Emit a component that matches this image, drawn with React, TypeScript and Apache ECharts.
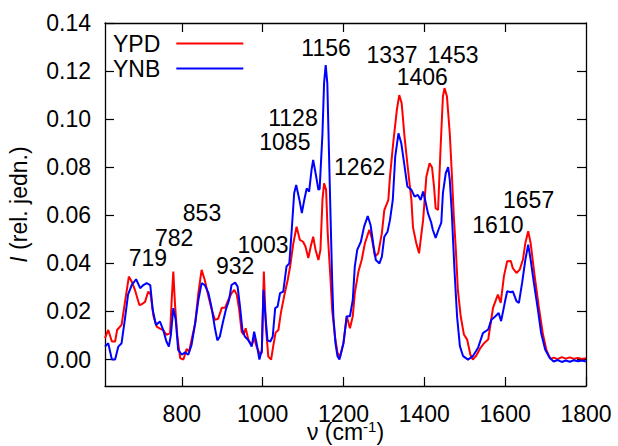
import React, { useEffect, useRef } from 'react';
import * as echarts from 'echarts';

// YPD (red) spectrum
const ypdWavenumber = [
  610, 618, 627, 635, 640, 651, 659, 669, 676, 684, 695, 701, 709, 717, 723, 730, 738, 745, 754, 762,
  771, 775, 779, 783, 789, 796, 804, 812, 818, 824, 833, 841, 849, 857, 866, 874, 882, 890, 899, 907,
  915, 923, 930, 936, 942, 948, 953, 958, 965, 973, 979, 985, 992, 998, 1003, 1008, 1014, 1021, 1026, 1032,
  1039, 1045, 1053, 1062, 1068, 1076, 1084, 1092, 1100, 1106, 1113, 1119, 1125, 1131, 1138, 1143, 1148, 1152, 1157, 1161,
  1167, 1172, 1179, 1185, 1191, 1200, 1208, 1216, 1223, 1228, 1237, 1245, 1253, 1264, 1270, 1278, 1286, 1295, 1301, 1311,
  1315, 1323, 1332, 1338, 1344, 1351, 1359, 1368, 1372, 1380, 1387, 1391, 1397, 1405, 1413, 1419, 1424, 1428, 1434, 1440,
  1446, 1450, 1456, 1463, 1468, 1473, 1478, 1483, 1490, 1498, 1506, 1514, 1520, 1528, 1539, 1549, 1558, 1564, 1570, 1576,
  1582, 1589, 1597, 1605, 1614, 1619, 1628, 1636, 1644, 1650, 1657, 1663, 1673, 1683, 1693, 1702, 1712, 1720, 1730, 1740,
  1750, 1760, 1770, 1780, 1790, 1800,
];
const ypdIntensity = [
  0.0089, 0.0123, 0.0075, 0.0075, 0.0123, 0.0144, 0.0235, 0.0345, 0.0325, 0.029, 0.0227, 0.023, 0.024, 0.0283, 0.027, 0.018, 0.0137, 0.013, 0.0123, 0.0103,
  0.011, 0.0248, 0.0366, 0.0235, 0.0096, 0.0006, 0.0, 0.0044, 0.0033, 0.008, 0.015, 0.0277, 0.0373, 0.033, 0.0262, 0.0207, 0.0165, 0.017, 0.0215, 0.0215,
  0.0248, 0.0276, 0.029, 0.027, 0.0207, 0.0116, 0.0103, 0.013, 0.008, 0.006, 0.0089, 0.0054, 0.0027, 0.0027, 0.0366, 0.0137, 0.0012, 0.0, 0.0054, 0.0112,
  0.0123, 0.0193, 0.0262, 0.0331, 0.0387, 0.0484, 0.0553, 0.0498, 0.049, 0.047, 0.0422, 0.047, 0.0511, 0.0456, 0.0414, 0.0456, 0.0664, 0.0733, 0.0706, 0.0526,
  0.036, 0.0207, 0.0096, 0.003, 0.001, 0.007, 0.018, 0.013, 0.018, 0.0276, 0.0366, 0.0414, 0.0484, 0.054, 0.0505, 0.0428, 0.0442, 0.0526, 0.0622, 0.0664,
  0.0761, 0.09, 0.1038, 0.11, 0.1066, 0.0927, 0.08, 0.0664, 0.055, 0.0485, 0.0442, 0.0498, 0.058, 0.076, 0.0817, 0.08, 0.072, 0.063, 0.0622, 0.0872,
  0.1094, 0.1129, 0.1094, 0.094, 0.0775, 0.0595, 0.0457, 0.029, 0.018, 0.0104, 0.0083, 0.002, 0.0, 0.0015, 0.0049, 0.007, 0.0083, 0.015, 0.0215, 0.0243,
  0.027, 0.0236, 0.0347, 0.0409, 0.041, 0.038, 0.036, 0.0374, 0.0416, 0.0485, 0.0534, 0.0485, 0.0347, 0.0222, 0.011, 0.004, 0.0003, 0.0008, 0.0002, 0.001,
  0.0004, 0.0009, 0.0003, 0.0007, 0.0002, 0.0006,
];

// YNB (blue) spectrum
const ynbWavenumber = [
  610, 618, 627, 635, 643, 651, 659, 667, 676, 687, 697, 705, 713, 722, 728, 736, 746, 754, 762, 768,
  773, 779, 785, 791, 800, 808, 816, 824, 833, 841, 849, 857, 866, 874, 882, 888, 894, 901, 909, 917,
  923, 932, 938, 944, 950, 956, 965, 973, 979, 985, 992, 998, 1002, 1007, 1012, 1019, 1025, 1031, 1037, 1043,
  1051, 1059, 1066, 1072, 1078, 1083, 1091, 1097, 1103, 1109, 1115, 1121, 1125, 1131, 1138, 1141, 1148, 1152, 1156, 1160,
  1164, 1168, 1172, 1175, 1180, 1185, 1190, 1200, 1208, 1216, 1223, 1228, 1234, 1243, 1251, 1260, 1267, 1274, 1280, 1289,
  1295, 1301, 1309, 1315, 1322, 1328, 1336, 1343, 1350, 1358, 1368, 1376, 1384, 1391, 1397, 1402, 1409, 1417, 1421, 1428,
  1435, 1442, 1446, 1453, 1459, 1463, 1468, 1471, 1475, 1481, 1488, 1496, 1508, 1520, 1533, 1545, 1558, 1566, 1576, 1584,
  1590, 1599, 1605, 1614, 1619, 1628, 1634, 1642, 1650, 1657, 1663, 1671, 1681, 1689, 1699, 1710, 1720, 1730, 1740, 1750,
  1760, 1770, 1780, 1790, 1800,
];
const ynbIntensity = [
  0.0054, 0.0068, 0.0, 0.0, 0.0054, 0.0068, 0.0165, 0.027, 0.031, 0.0334, 0.0297, 0.031, 0.0318, 0.031, 0.0207, 0.0144, 0.0158, 0.0123, 0.0075, 0.0054,
  0.0103, 0.0214, 0.0165, 0.004, 0.002, 0.003, 0.002, 0.006, 0.015, 0.0248, 0.0318, 0.031, 0.0276, 0.0214, 0.013, 0.008, 0.0095, 0.015, 0.0207, 0.0248,
  0.031, 0.032, 0.0304, 0.022, 0.0123, 0.0096, 0.008, 0.0054, 0.0116, 0.0068, 0.0, 0.004, 0.029, 0.018, 0.008, 0.0075, 0.0096, 0.0214, 0.022, 0.0276,
  0.0283, 0.0387, 0.04, 0.054, 0.0692, 0.0726, 0.0664, 0.0609, 0.0664, 0.0712, 0.0699, 0.0789, 0.083, 0.0775, 0.0706, 0.071, 0.094, 0.115, 0.1225, 0.115,
  0.087, 0.0595, 0.033, 0.018, 0.007, 0.0015, 0.0, 0.0068, 0.018, 0.018, 0.0248, 0.0387, 0.0456, 0.049, 0.0553, 0.0597, 0.056, 0.0477, 0.0414, 0.04,
  0.0428, 0.0511, 0.0532, 0.058, 0.0664, 0.0844, 0.0941, 0.09, 0.0817, 0.072, 0.0706, 0.0678, 0.0685, 0.0664, 0.0699, 0.0664, 0.0609, 0.057, 0.054, 0.0506,
  0.054, 0.057, 0.0692, 0.0775, 0.08, 0.0747, 0.061, 0.05, 0.036, 0.018, 0.0056, 0.0014, 0.0, 0.0014, 0.0049, 0.011, 0.0125, 0.0166, 0.018, 0.0194,
  0.016, 0.0236, 0.0284, 0.028, 0.0284, 0.0243, 0.0236, 0.032, 0.0416, 0.0478, 0.0416, 0.032, 0.0208, 0.011, 0.0042, 0.0007, -0.0008, -0.0002, -0.001, -0.0004,
  -0.0009, -0.0003, -0.0007, -0.0004, -0.0008,
];

// Peak annotations (text, anchor in data coordinates)
const peakLabels = ['719', '782', '853', '932', '1003', '1085', '1128', '1156', '1337', '1453', '1406', '1262', '1657', '1610'];
const peakLabelX = [716, 781, 850, 932, 1001, 1055, 1075, 1157, 1320, 1471, 1395, 1240, 1658, 1582];
const peakLabelY = [0.0423, 0.0506, 0.061, 0.039, 0.0477, 0.0903, 0.1003, 0.1296, 0.1267, 0.1267, 0.1175, 0.0799, 0.0664, 0.056];

const xTicks = [800, 1000, 1200, 1400, 1600, 1800];
const yTicks = [0, 0.02, 0.04, 0.06, 0.08, 0.1, 0.12, 0.14];

const FONT = 'Liberation Sans, Arial, Helvetica, sans-serif';
const FS = 23;

export default function App() {
  const ref = useRef<HTMLDivElement>(null);
  useEffect(() => {
    document.body.style.margin = '0';
    const chart = echarts.init(ref.current!, null, { renderer: 'svg' });
    const axisLine = { show: true, onZero: false, lineStyle: { color: '#000', width: 1.3 } };
    const tickStyle = { lineStyle: { color: '#000', width: 1.2 } };
    const option: any = {
      animation: false,
      textStyle: { fontFamily: FONT },
      grid: { left: 105, right: 32, top: 23, bottom: 60, containLabel: false, outerBoundsMode: 'none' },
      legend: {
        data: [
          { name: 'YPD', icon: 'rect' },
          { name: 'YNB', icon: 'rect' },
        ],
        orient: 'vertical',
        left: 113,
        top: 32,
        align: 'right',
        itemWidth: 67,
        itemHeight: 2,
        itemGap: 2,
        padding: 0,
        textStyle: { fontSize: FS, color: '#000', fontFamily: FONT, lineHeight: 23, padding: [0, 11, 0, 0] },
      },
      xAxis: [
        {
          type: 'value', min: 610, max: 1800, position: 'bottom',
          axisLine,
          axisTick: { show: true, inside: true, length: 9, customValues: xTicks, ...tickStyle },
          axisLabel: {
            show: true, customValues: xTicks, fontSize: FS, color: '#000', margin: 16, fontFamily: FONT,
            formatter: (v: number) => String(v),
          },
          splitLine: { show: false },
          name: 'ν (cm{sup|-1})',
          nameLocation: 'middle',
          nameGap: 33,
          nameMoveOverlap: false,
          nameTextStyle: {
            fontSize: FS, color: '#000', fontFamily: FONT, lineHeight: 26,
            rich: { sup: { fontSize: 15, verticalAlign: 'top', fontFamily: FONT, color: '#000', lineHeight: 15, padding: [0, 0, 11, 0] } },
          },
        },
        {
          type: 'value', min: 610, max: 1800, position: 'top',
          axisLine,
          axisTick: { show: true, inside: true, length: 9, customValues: xTicks.slice(0, 5), ...tickStyle },
          axisLabel: { show: false },
          splitLine: { show: false },
        },
      ],
      yAxis: [
        {
          type: 'value', min: -0.011, max: 0.14, position: 'left',
          axisLine,
          axisTick: { show: true, inside: true, length: 9, customValues: yTicks, ...tickStyle },
          axisLabel: {
            show: true, customValues: yTicks, fontSize: FS, color: '#000', margin: 14, fontFamily: FONT,
            formatter: (v: number) => v.toFixed(2),
          },
          splitLine: { show: false },
          name: '{i|I} (rel. jedn.)',
          nameLocation: 'middle',
          nameRotate: 90,
          nameGap: 75,
          nameTextStyle: {
            fontSize: FS, color: '#000', fontFamily: FONT,
            rich: { i: { fontStyle: 'italic', fontSize: FS, fontFamily: FONT, color: '#000' } },
          },
        },
        {
          type: 'value', min: -0.011, max: 0.14, position: 'right',
          axisLine,
          axisTick: { show: true, inside: true, length: 9, customValues: yTicks.slice(0, 7), ...tickStyle },
          axisLabel: { show: false },
          splitLine: { show: false },
        },
      ],
      series: [
        {
          name: 'YPD', type: 'line', symbol: 'none', smooth: false,
          lineStyle: { color: '#ff0000', width: 2 }, itemStyle: { color: '#ff0000' },
          data: ypdWavenumber.map((x, i) => [x, ypdIntensity[i]]),
          z: 2,
        },
        {
          name: 'YNB', type: 'line', symbol: 'none', smooth: false,
          lineStyle: { color: '#0000ff', width: 2 }, itemStyle: { color: '#0000ff' },
          data: ynbWavenumber.map((x, i) => [x, ynbIntensity[i]]),
          z: 3,
        },
        {
          name: 'peaks', type: 'scatter', symbolSize: 0, silent: true, z: 10,
          itemStyle: { color: 'transparent', opacity: 1 },
          label: {
            show: true, position: 'inside', formatter: '{b}', fontSize: FS, lineHeight: 20,
            color: '#000', fontFamily: FONT, opacity: 1, textBorderWidth: 0,
          },
          data: peakLabels.map((t, i) => ({ name: t, value: [peakLabelX[i], peakLabelY[i]] })),
        },
      ],
    };
    chart.setOption(option);
    return () => chart.dispose();
  }, []);
  return <div ref={ref} style={{ width: 618, height: 446 }} />;
}
